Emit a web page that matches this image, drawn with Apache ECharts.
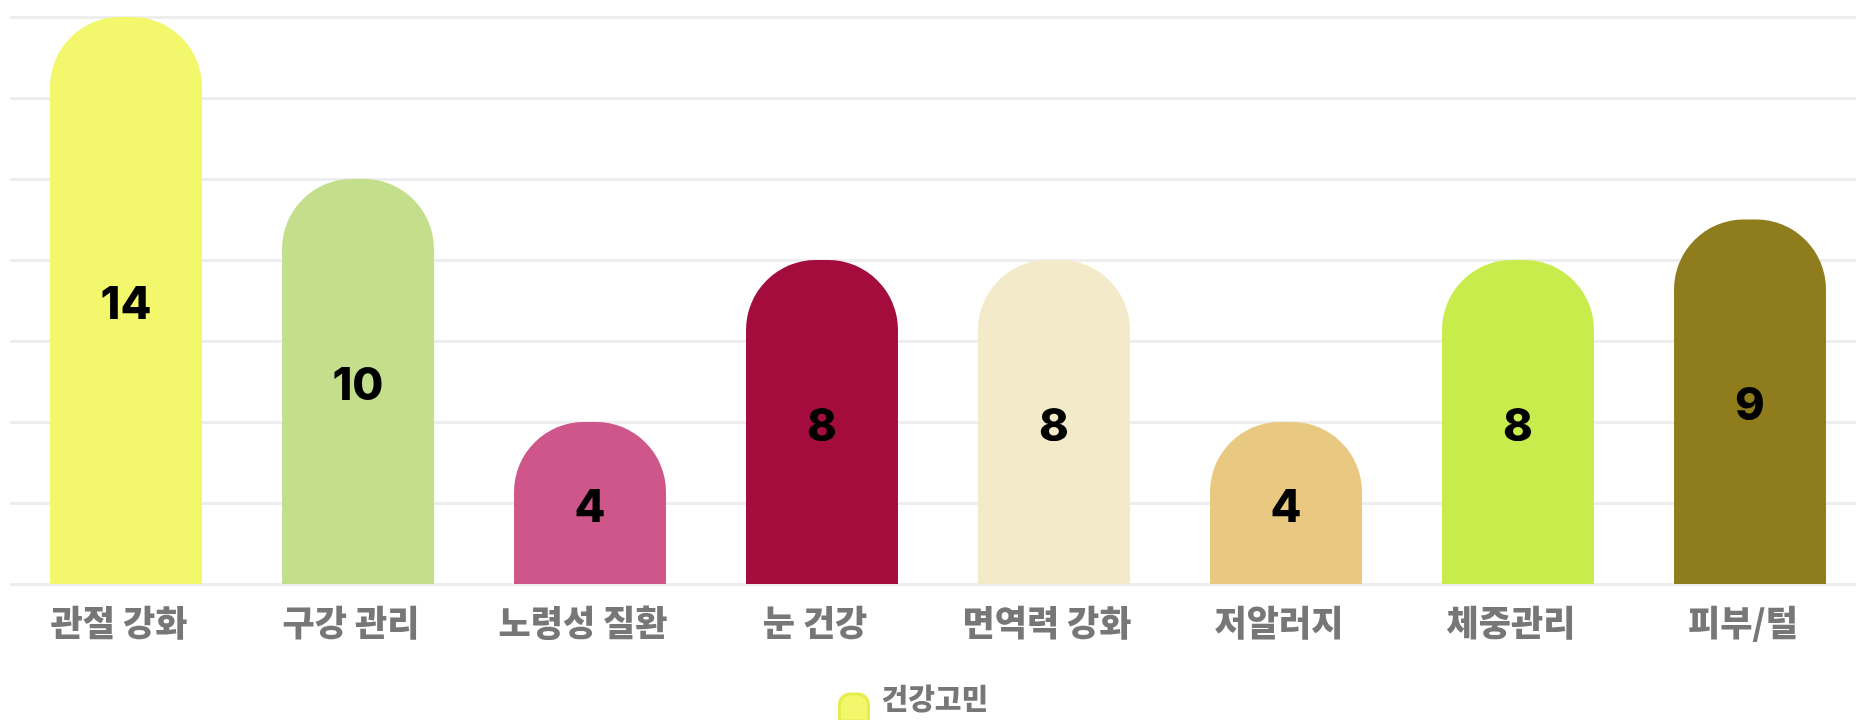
<!DOCTYPE html>
<html>
<head>
<meta charset="utf-8">
<script src="https://cdn.jsdelivr.net/npm/echarts@6/dist/echarts.min.js"></script>
<style>
  html, body { margin: 0; padding: 0; background: #fff; }
  #chart { width: 1856px; height: 720px; }
</style>
</head>
<body>
<div id="chart"></div>
<script>
const categories = ['관절 강화', '구강 관리', '노령성 질환', '눈 건강', '면역력 강화', '저알러지', '체중관리', '피부/털']
const counts = [14, 10, 4, 8, 8, 4, 8, 9]
const barColors = ['#f2f76b', '#c4df8c', '#cf568b', '#a40c3e', '#f3eac9', '#e9c981', '#c8ec4c', '#8f7d1d']
const seriesName = '건강고민'

const chart = echarts.init(document.getElementById('chart'))

// rounded-top shape, same as the bars
const legendIcon = 'path://M0,11 A11,11 0 0 1 11,0 L19,0 A11,11 0 0 1 30,11 L30,28 L0,28 Z'

const option = {
  animation: false,
  grid: {
    left: 10,
    right: -10,
    top: 17,
    bottom: 136,
    outerBoundsMode: 'none'
  },
  legend: {
    data: [seriesName],
    left: 833,
    top: 679,
    icon: legendIcon,
    itemWidth: 29,
    itemHeight: 27,
    itemGap: 10,
    formatter: '{t|{name}}',
    textStyle: {
      rich: {
        t: {
          color: '#777777',
          fontSize: 29,
          fontWeight: 900,
          fontFamily: '"Noto Sans CJK KR", sans-serif',
          padding: [0, 0, 18, 8]
        }
      }
    },
    itemStyle: {
      borderColor: '#e6ee4c',
      borderWidth: 3
    }
  },
  xAxis: {
    type: 'category',
    data: categories,
    axisLine: { show: false },
    axisTick: { show: false },
    axisLabel: {
      margin: 21,
      color: '#777777',
      fontSize: 35,
      fontWeight: 900,
      fontFamily: '"Noto Sans CJK KR", sans-serif',
      padding: [0, 14, 0, 0]
    }
  },
  yAxis: {
    type: 'value',
    min: 0,
    max: 14,
    interval: 2,
    axisLabel: { show: false },
    axisLine: { show: false },
    axisTick: { show: false },
    splitLine: { lineStyle: { color: '#eeeeee', width: 3 } }
  },
  series: [
    {
      name: seriesName,
      type: 'bar',
      barWidth: '65.5%',
      itemStyle: {
        color: barColors[0],
        borderRadius: [70, 70, 0, 0]
      },
      label: {
        show: true,
        position: 'inside',
        offset: [0, 5],
        color: '#000',
        fontSize: 45,
        fontWeight: 800,
        fontFamily: 'Inter, sans-serif'
      },
      data: counts.map((v, i) => ({ value: v, itemStyle: { color: barColors[i] } }))
    }
  ]
}

chart.setOption(option)
</script>
</body>
</html>
